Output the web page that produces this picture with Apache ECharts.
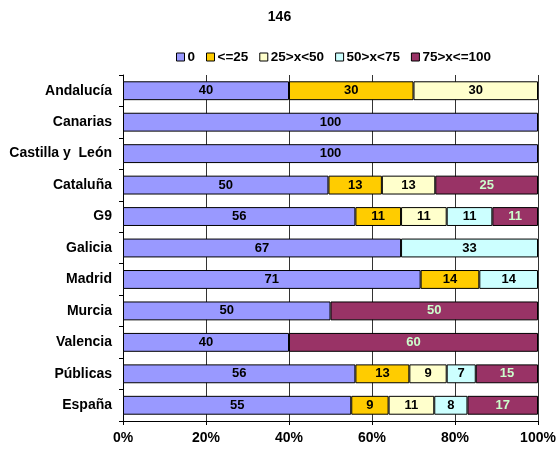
<!DOCTYPE html>
<html>
<head>
<meta charset="utf-8">
<script src="https://cdn.jsdelivr.net/npm/echarts@6/dist/echarts.min.js"></script>
<style>
  html, body { margin: 0; padding: 0; background: #fff; }
  #chart { width: 559px; height: 451px; }
</style>
</head>
<body>
<div id="chart"></div>
<script>
// Regions (top to bottom)
const categories = ['Andalucía', 'Canarias', 'Castilla y  León', 'Cataluña', 'G9', 'Galicia',
  'Madrid', 'Murcia', 'Valencia', 'Públicas', 'España'];

// Share of cases per band (%), one array per band
const band0      = [40, 100, 100, 50, 56, 67, 71, 50, 40, 56, 55];
const bandLe25   = [30,   0,   0, 13, 11,  0, 14,  0,  0, 13,  9];
const band25_50  = [30,   0,   0, 13, 11,  0,  0,  0,  0,  9, 11];
const band50_75  = [ 0,   0,   0,  0, 11, 33, 14,  0,  0,  7,  8];
const band75_100 = [ 0,   0,   0, 25, 11,  0,  0, 50, 60, 15, 17];

const seriesNames = ['0', '<=25', '25>x<50', '50>x<75', '75>x<=100'];
const seriesColors = ['#9999FF', '#FFCC00', '#FFFFCC', '#CCFFFF', '#993366'];
const labelColors = ['#000', '#000', '#000', '#000', '#CCFFCC'];
const xTicks = [0, 20, 40, 60, 80, 100];

const allBands = [band0, bandLe25, band25_50, band50_75, band75_100];
const rowTotals = categories.map((_, i) => allBands.reduce((s, b) => s + b[i], 0));

const FONT = 'Liberation Sans, Arial, sans-serif';

const series = allBands.map((band, k) => ({
  name: seriesNames[k],
  type: 'bar',
  stack: 'total',
  barWidth: '60%',
  itemStyle: { color: seriesColors[k], borderColor: '#000', borderWidth: 1 },
  label: {
    show: true,
    position: 'inside',
    color: labelColors[k],
    fontFamily: FONT,
    fontWeight: 'bold',
    fontSize: 13,
    formatter: p => p.data.raw
  },
  // 100% stacked: each segment is its share of the row total
  data: band.map((v, i) => v > 0 ? { value: v / rowTotals[i] * 100, raw: v } : '-')
}));

const chart = echarts.init(document.getElementById('chart'), null, { renderer: 'canvas' });
chart.setOption({
  animation: false,
  backgroundColor: '#fff',
  title: {
    text: '146',
    left: 'center',
    top: 5,
    textStyle: { fontFamily: FONT, fontWeight: 'bold', fontSize: 14, color: '#000' }
  },
  legend: {
    left: 171,
    top: 45,
    itemWidth: 8,
    itemHeight: 8,
    itemGap: 11,
    icon: 'rect',
    itemStyle: { borderColor: '#000', borderWidth: 1 },
    textStyle: { fontFamily: FONT, fontWeight: 'bold', fontSize: 13.5, color: '#000', padding: [0, 0, 0, -2] },
    data: seriesNames
  },
  grid: { left: 123, right: 21, top: 75, bottom: 30, containLabel: false },
  xAxis: {
    type: 'value',
    min: xTicks[0],
    max: xTicks[xTicks.length - 1],
    interval: 20,
    axisLine: { show: true, lineStyle: { color: '#000', width: 1 } },
    axisTick: { show: true, length: 4, lineStyle: { color: '#000' } },
    axisLabel: {
      formatter: '{value}%',
      fontFamily: FONT, fontWeight: 'bold', fontSize: 14, color: '#000', margin: 10
    },
    splitLine: { show: true, lineStyle: { color: '#333', width: 1 } }
  },
  yAxis: {
    type: 'category',
    inverse: true,
    data: categories,
    axisLine: { show: true, lineStyle: { color: '#000', width: 1 } },
    axisTick: { show: true, length: 4, lineStyle: { color: '#000' } },
    axisLabel: {
      fontFamily: FONT, fontWeight: 'bold', fontSize: 14, color: '#000', margin: 11
    }
  },
  series: series
});
</script>
</body>
</html>
